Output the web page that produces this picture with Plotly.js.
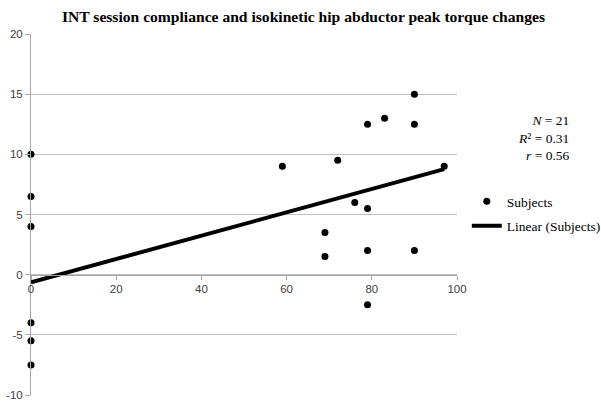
<!DOCTYPE html>
<html>
<head>
<meta charset="utf-8">
<script src="https://cdn.plot.ly/plotly-3.0.1.min.js"></script>
<style>html,body{margin:0;padding:0;background:#fff;}#chart{width:601px;height:404px;}</style>
</head>
<body>
<div id="chart"></div>
<script>
// Session compliance (%) and peak torque change
const compliance = [0, 0, 0, 0, 0, 0, 59, 72, 79, 83, 90, 90, 97, 76, 79, 69, 69, 79, 90, 79];
const torqueChange = [10, 6.5, 4, -4, -5.5, -7.5, 9, 9.5, 12.5, 13, 15, 12.5, 9, 6, 5.5, 3.5, 1.5, 2, 2, -2.5];
// Linear trendline
const trendIntercept = -0.64;
const trendSlope = 0.097;
const statsLabels = ['<i>N</i> = 21', '<i>R</i>² = 0.31', '<i>r</i> = 0.56'];
const xTicks = [0, 20, 40, 60, 80, 100];
const yTicks = [-10, -5, 0, 5, 10, 15, 20];

const xMin = Math.min(...compliance), xMax = Math.max(...compliance);
const trendX = [xMin, xMax];
const trendY = trendX.map(x => trendIntercept + trendSlope * x);

const serif = 'Liberation Serif, Times New Roman, serif';
const sans = 'Liberation Sans, Arial, sans-serif';

const traces = [
  {
    x: compliance, y: torqueChange, type: 'scatter', mode: 'markers', name: 'Subjects',
    marker: {color: '#000', size: 7}, cliponaxis: false, legendgroup: 'a'
  },
  {
    x: trendX, y: trendY, type: 'scatter', mode: 'lines', name: 'Linear (Subjects)',
    line: {color: '#000', width: 4}, cliponaxis: false, legendgroup: 'b'
  }
];

const layout = {
  width: 601, height: 404,
  margin: {l: 31, r: 144, t: 34, b: 9, autoexpand: false},
  paper_bgcolor: '#fff', plot_bgcolor: '#fff',
  title: {text: '<b>INT session compliance and isokinetic hip abductor peak torque changes</b>',
          font: {family: serif, size: 15.6, color: '#000'}, x: 0.505, xanchor: 'center', y: 0.958, yanchor: 'middle', xref: 'container', yref: 'container'},
  xaxis: {
    range: [0, 100], tickvals: xTicks, ticktext: xTicks.map(String),
    anchor: 'free', position: 1/3,
    showline: true, linecolor: '#a6a6a6', linewidth: 1,
    ticks: 'outside', ticklen: 4, tickcolor: '#a6a6a6',
    showgrid: false, zeroline: false,
    tickfont: {family: sans, size: 11.5, color: '#404040'}
  },
  yaxis: {
    range: [-10, 20], tickvals: yTicks, ticktext: yTicks.map(String),
    showline: true, linecolor: '#a6a6a6', linewidth: 1,
    ticks: 'outside', ticklen: 5, tickcolor: '#a6a6a6',
    showgrid: true, gridcolor: '#bfbfbf', gridwidth: 1, zeroline: false,
    tickfont: {family: sans, size: 11.5, color: '#404040'}
  },
  showlegend: true,
  legend: {
    x: 1.023, xanchor: 'left', y: 0.579, yanchor: 'top',
    font: {family: serif, size: 13.5, color: '#000'},
    itemwidth: 30, tracegroupgap: 4, bgcolor: 'rgba(0,0,0,0)'
  },
  annotations: [{
    xref: 'paper', yref: 'paper', x: 1.27, y: 0.712, xanchor: 'right', yanchor: 'middle',
    align: 'right', showarrow: false, text: statsLabels.join('<br>'),
    font: {family: serif, size: 13.5, color: '#000'}
  }]
};

Plotly.newPlot('chart', traces, layout, {displayModeBar: false, staticPlot: true});
</script>
</body>
</html>
